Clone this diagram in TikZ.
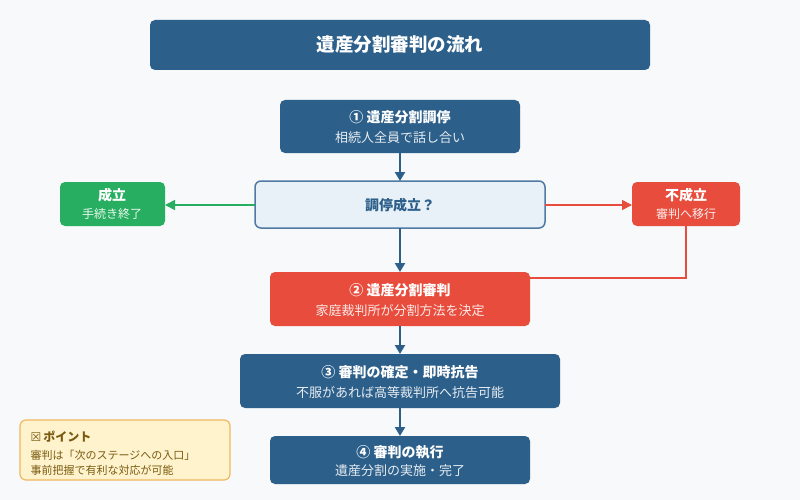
\documentclass[tikz,border=0pt]{standalone}
\usepackage{fontspec}
\setmainfont{Noto Sans CJK JP}
\newfontfamily\dejavu{DejaVu Sans}
\usetikzlibrary{arrows.meta}
\definecolor{bg}{HTML}{F7F9FB}
\definecolor{navy}{HTML}{2C5F8A}
\definecolor{redc}{HTML}{E74C3C}
\definecolor{greenc}{HTML}{27AE60}
\definecolor{declight}{HTML}{E8F0F8}
\definecolor{decborder}{HTML}{4F7AA3}
\definecolor{ptfill}{HTML}{FEF3CD}
\definecolor{ptborder}{HTML}{F0B860}
\definecolor{pttext}{HTML}{7A5A10}
\begin{document}
\begin{tikzpicture}[x=1pt,y=-1pt,
 box/.style={rounded corners=5pt,draw=none},
 t1/.style={text=white,font=\bfseries\fontsize{14}{16}\selectfont},
 t2/.style={text=white!88!navy,font=\fontsize{13}{15}\selectfont},
 arr/.style={draw=navy,line width=2.2pt,-{Triangle[length=9pt,width=10pt]}},
 ]
\fill[bg] (0,0) rectangle (800,500);
\useasboundingbox (0,0) rectangle (800,500);
\fill[box,navy] (150,20) rectangle (650,70);
\node[text=white,font=\bfseries\fontsize{18.5}{20}\selectfont] (title) at (400,45) {遺産分割審判の流れ};
% box1
\fill[box,navy] (280,100) rectangle (520,153);
\node[t1] (b1a) at (400,117) {① 遺産分割調停};
\node[t2] (b1b) at (400,138) {相続人全員で話し合い};
\coordinate (b1s) at (400,153);
% decision
\draw[rounded corners=6pt,fill=declight,draw=decborder,line width=1.5pt] (255,181) rectangle (545,228);
\node[text=navy,font=\bfseries\fontsize{14}{16}\selectfont] (dec) at (400,205) {調停成立？};
\coordinate (decN) at (400,181);
\coordinate (decS) at (400,228);
\coordinate (decW) at (255,205);
\coordinate (decE) at (545,205);
% green
\fill[box,greenc] (60,182) rectangle (165,226);
\node[t1] (ga) at (112,195) {成立};
\node[t2,text=white!90!greenc,font=\fontsize{12}{14}\selectfont] (gb) at (112,214) {手続き終了};
\coordinate (gE) at (165,205);
% red
\fill[box,redc] (632,182) rectangle (740,226);
\node[t1] (ra) at (686,195) {不成立};
\node[t2,text=white!90!redc,font=\fontsize{12}{14}\selectfont] (rb) at (686,214) {審判へ移行};
\coordinate (rW) at (632,205);
\coordinate (rS) at (686,226);
% box2
\fill[box,redc] (270,272) rectangle (530,326);
\node[t1] (b2a) at (400,290) {② 遺産分割審判};
\node[t2,text=white!88!redc] (b2b) at (400,311) {家庭裁判所が分割方法を決定};
\coordinate (b2N) at (400,272);
\coordinate (b2S) at (400,326);
\coordinate (b2E) at (530,278);
% box3
\fill[box,navy] (240,354) rectangle (560,408);
\node[t1] (b3a) at (400,372) {③ 審判の確定・即時抗告};
\node[t2] (b3b) at (400,393) {不服があれば高等裁判所へ抗告可能};
\coordinate (b3N) at (400,354);
\coordinate (b3S) at (400,408);
% box4
\fill[box,navy] (270,436) rectangle (530,484);
\node[t1] (b4a) at (400,452) {④ 審判の執行};
\node[t2] (b4b) at (400,471) {遺産分割の実施・完了};
\coordinate (b4N) at (400,436);
% arrows
\draw[arr] (b1s) -- (decN);
\draw[arr] (decS) -- (b2N);
\draw[arr] (b2S) -- (b3N);
\draw[arr] (b3S) -- (b4N);
\draw[draw=greenc,line width=1.5pt,-{Triangle[length=10pt,width=10pt]}] (decW) -- (gE);
\draw[draw=redc,line width=1.5pt,-{Triangle[length=10pt,width=10pt]}] (decE) -- (rW);
\draw[draw=redc,line width=1.5pt] (rS) |- (b2E);
% point box
\draw[rounded corners=6pt,fill=ptfill,draw=ptborder,line width=1.2pt] (20,420) rectangle (230,480);
\node[anchor=west,text=pttext,font=\bfseries\fontsize{12}{14}\selectfont] (pt) at (27,437) {{\dejavu\mdseries ☒}\,ポイント};
\node[anchor=west,text=pttext,font=\fontsize{11}{13}\selectfont] (pt1) at (27,455) {審判は「次のステージへの入口」};
\node[anchor=west,text=pttext,font=\fontsize{11}{13}\selectfont] (pt2) at (27,470) {事前把握で有利な対応が可能};
\end{tikzpicture}
\end{document}
